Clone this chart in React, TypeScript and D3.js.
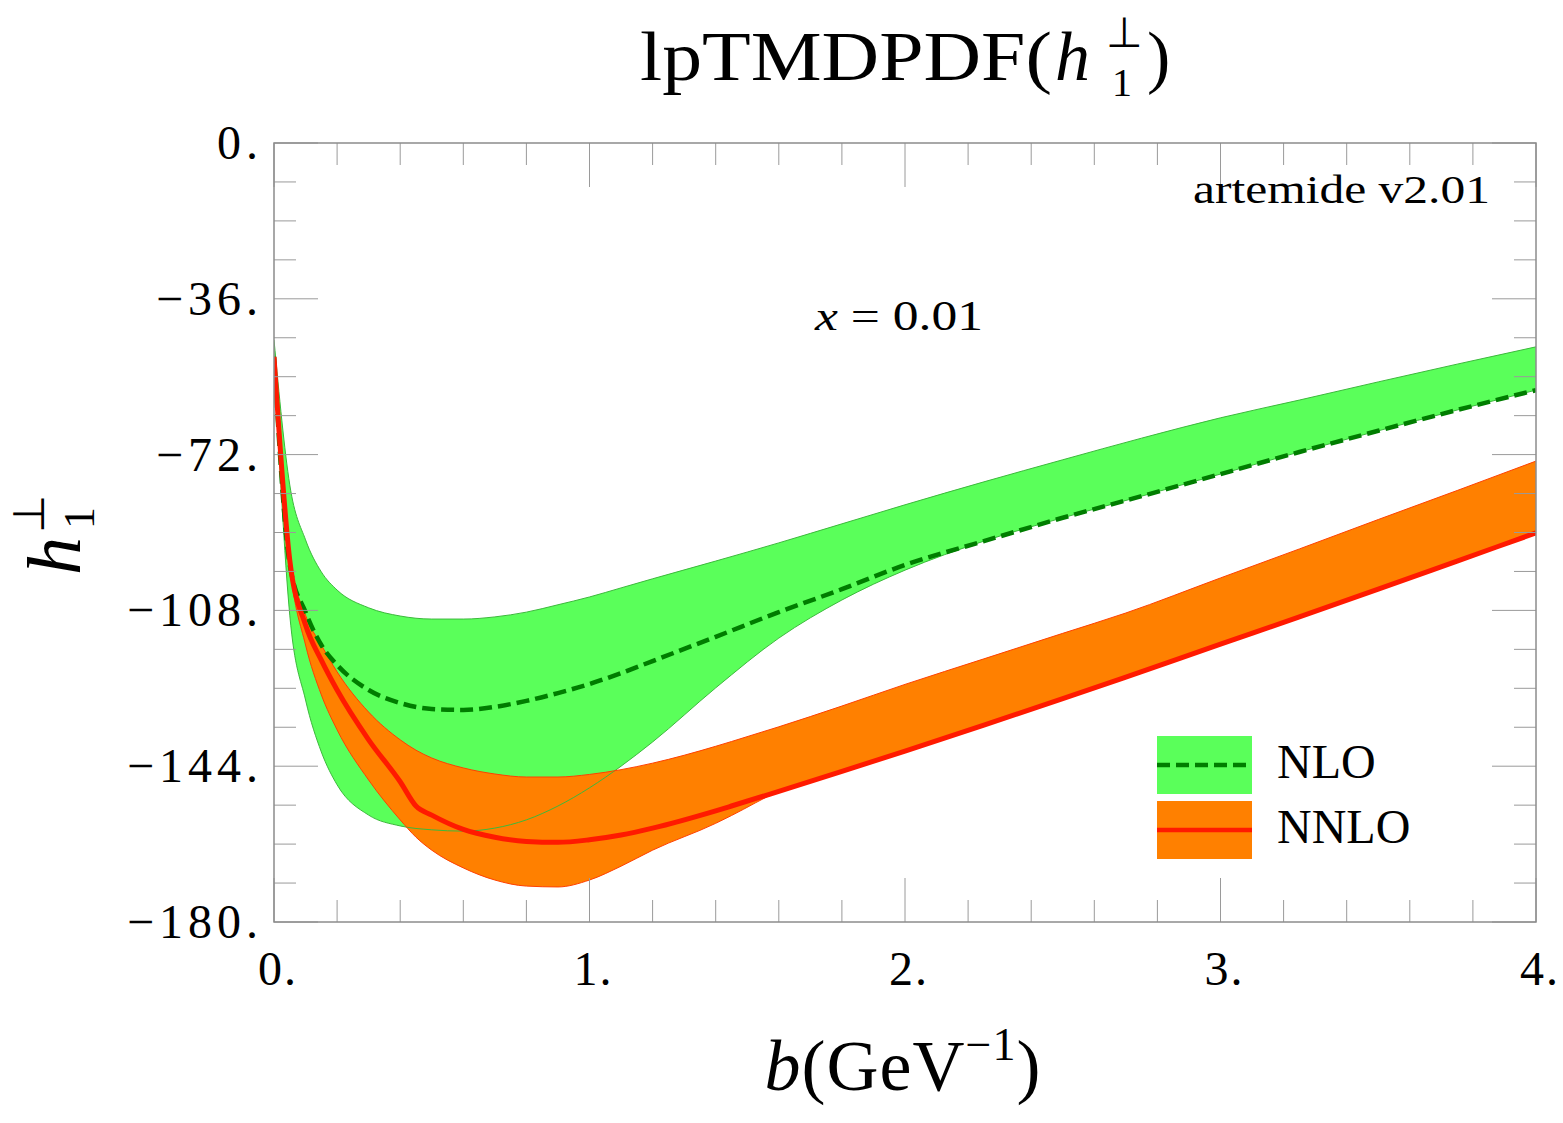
import React from 'react';
import * as d3 from 'd3';

// b values (GeV^-1) at which the curves were sampled
const bNLO = [0, 0.05, 0.1, 0.15, 0.2, 0.3, 0.4, 0.5, 0.6, 0.7, 0.8, 0.9, 1.0, 1.1, 1.2, 1.4, 1.6, 1.8, 2.0, 2.25, 2.5, 2.75, 3.0, 3.25, 3.5, 3.75, 4.0];
const nloCentral = [-49.4, -97.5, -108.4, -116.0, -120.6, -126.4, -129.4, -130.8, -131.0, -130.3, -128.9, -127.1, -125.0, -122.5, -119.7, -114.1, -108.4, -103.1, -97.5, -92.0, -86.6, -81.6, -76.5, -71.4, -66.5, -61.7, -57.1];
const nloUpper = [-45.5, -79.0, -91.7, -99.1, -103.3, -107.4, -109.3, -110.0, -110.0, -109.5, -108.4, -106.7, -104.9, -102.8, -100.7, -96.6, -92.4, -88.0, -83.6, -78.3, -73.2, -68.2, -63.5, -59.4, -55.2, -51.1, -47.1];
const nloLower = [-49.4, -109.1, -128.7, -140.7, -148.3, -155.3, -157.8, -158.7, -159.0, -158.3, -156.4, -153.2, -149.0, -144.0, -138.4, -125.9, -114.4, -105.6, -98.7, -92.0, -86.6, -81.6, -76.5, -71.4, -66.5, -61.7, -57.1];

const bNNLO = [0, 0.05, 0.1, 0.15, 0.2, 0.3, 0.4, 0.45, 0.5, 0.6, 0.7, 0.8, 0.9, 1.0, 1.1, 1.2, 1.4, 1.45, 1.6, 1.8, 2.0, 2.25, 2.5, 2.7, 3.0, 3.25, 3.5, 3.75, 4.0];
const nnloCentral = [-49.4, -96.4, -111.4, -119.5, -126.4, -137.9, -147.6, -153.2, -155.3, -158.6, -160.4, -161.4, -161.6, -161.0, -159.9, -158.3, -154.3, -153.2, -149.8, -145.2, -140.5, -134.5, -128.4, -123.4, -115.8, -109.5, -103.1, -96.6, -90.1];
const nnloUpper = [-49.4, -95.2, -109.1, -116.0, -122.2, -131.5, -137.9, -140.3, -142.1, -144.4, -145.8, -146.5, -146.5, -145.9, -144.8, -143.3, -139.4, -138.3, -134.9, -130.1, -125.1, -119.2, -113.3, -108.6, -100.5, -93.8, -87.0, -80.3, -73.5];
const nnloLower = [-49.4, -97.5, -116.0, -127.5, -135.6, -147.2, -156.4, -160.4, -163.4, -167.5, -170.3, -171.7, -171.9, -170.3, -167.1, -163.4, -157.2, -155.4, -149.8, -145.2, -140.5, -134.5, -128.4, -123.4, -115.8, -109.5, -103.1, -96.6, -90.1];

const xTickLabels = ['0.', '1.', '2.', '3.', '4.'];
const xMajor = [0, 1, 2, 3, 4];
const yMajor = [0, -36, -72, -108, -144, -180];
const yTickLabels = ['0.', '\u221236.', '\u221272.', '\u2212108.', '\u2212144.', '\u2212180.'];

const W = 1563;
const H = 1123;
const margin = { left: 274, right: 27, top: 143, bottom: 201 };
const FONT = '"Liberation Serif", "Times New Roman", serif';

const GREEN_FILL = '#5aff5a';
const GREEN_EDGE = '#3cb93c';
const GREEN_LINE = '#007d00';
const ORANGE_FILL = '#ff8000';
const ORANGE_EDGE = '#ff4000';
const RED_LINE = '#ff1a00';

export default function App() {
  const x = d3.scaleLinear().domain([0, 4]).range([margin.left, W - margin.right]);
  const y = d3.scaleLinear().domain([-180, 0]).range([H - margin.bottom, margin.top]);
  const x0 = x.range()[0], x1 = x.range()[1];
  const y0 = y.range()[0], y1 = y.range()[1];

  const curve = d3.curveMonotoneX;
  const nloArea = d3.area<number>().x((_, i) => x(bNLO[i])).y0((_, i) => y(nloLower[i])).y1((_, i) => y(nloUpper[i])).curve(curve);
  const nnloArea = d3.area<number>().x((_, i) => x(bNNLO[i])).y0((_, i) => y(nnloLower[i])).y1((_, i) => y(nnloUpper[i])).curve(curve);
  const lineOf = (bs: number[], vs: number[]) =>
    d3.line<number>().x((_, i) => x(bs[i])).y((d) => y(d)).curve(curve)(vs) || '';

  // minor ticks
  const xMinor = d3.range(0, 4.0001, 0.2).filter((v) => Math.abs(v - Math.round(v)) > 1e-6);
  const yMinor = d3.range(-180, 0.001, 9).filter((v) => Math.abs(v % 36) > 1e-6);
  const MAJ = 44;
  const MIN = 22;
  const tickColor = '#9a9a9a';

  return (
    <svg width={W} height={H} style={{ position: 'absolute', left: 0, top: 0, background: '#fff' }} fontFamily={FONT}>
      <defs>
        <clipPath id="plot-clip">
          <rect x={x0} y={y1} width={x1 - x0} height={y0 - y1} />
        </clipPath>
      </defs>

      {/* title */}
      <g>
        <text x={640} y={80} fontSize={70} textLength={412} lengthAdjust="spacingAndGlyphs">lpTMDPDF(</text>
        <text x={1055} y={80} fontSize={70} fontStyle="italic">h</text>
        <text x={1106} y={47} fontSize={42}>{'\u22a5'}</text>
        <text x={1112} y={96} fontSize={40}>1</text>
        <text x={1147} y={80} fontSize={70}>)</text>
      </g>

      {/* bands and curves */}
      <g clipPath="url(#plot-clip)">
        <path d={nloArea(nloCentral) || ''} fill={GREEN_FILL} stroke="none" />
        <path d={nnloArea(nnloCentral) || ''} fill={ORANGE_FILL} stroke="none" />
        <path d={lineOf(bNLO, nloUpper)} fill="none" stroke={GREEN_EDGE} strokeWidth={1} />
        <path d={lineOf(bNLO, nloLower)} fill="none" stroke={GREEN_EDGE} strokeWidth={1} />
        <path d={lineOf(bNNLO, nnloUpper)} fill="none" stroke={ORANGE_EDGE} strokeWidth={1} />
        <path d={lineOf(bNNLO, nnloLower)} fill="none" stroke={ORANGE_EDGE} strokeWidth={1} />
        <path d={lineOf(bNLO, nloCentral)} fill="none" stroke={GREEN_LINE} strokeWidth={4.5} strokeDasharray="13,6" />
        <path d={lineOf(bNNLO, nnloCentral)} fill="none" stroke={RED_LINE} strokeWidth={5} />
      </g>

      {/* frame ticks */}
      <g stroke={tickColor} strokeWidth={1}>
        {xMajor.map((v) => (
          <g key={'xM' + v}>
            <line x1={x(v)} x2={x(v)} y1={y0} y2={y0 - MAJ} />
            <line x1={x(v)} x2={x(v)} y1={y1} y2={y1 + MAJ} />
          </g>
        ))}
        {xMinor.map((v) => (
          <g key={'xm' + v}>
            <line x1={x(v)} x2={x(v)} y1={y0} y2={y0 - MIN} />
            <line x1={x(v)} x2={x(v)} y1={y1} y2={y1 + MIN} />
          </g>
        ))}
        {yMajor.map((v) => (
          <g key={'yM' + v}>
            <line x1={x0} x2={x0 + MAJ} y1={y(v)} y2={y(v)} />
            <line x1={x1} x2={x1 - MAJ} y1={y(v)} y2={y(v)} />
          </g>
        ))}
        {yMinor.map((v) => (
          <g key={'ym' + v}>
            <line x1={x0} x2={x0 + MIN} y1={y(v)} y2={y(v)} />
            <line x1={x1} x2={x1 - MIN} y1={y(v)} y2={y(v)} />
          </g>
        ))}
      </g>
      <rect x={x0} y={y1} width={x1 - x0} height={y0 - y1} fill="none" stroke="#8c8c8c" strokeWidth={1.5} />

      {/* tick labels */}
      {xMajor.map((v, i) => (
        <text key={'xl' + v} x={x(v) + 4} y={y0 + 63} fontSize={48} textAnchor="middle" letterSpacing={2}>{xTickLabels[i]}</text>
      ))}
      {yMajor.map((v, i) => (
        <text key={'yl' + v} x={x0 - 11} y={y(v) + 16} fontSize={48} textAnchor="end" letterSpacing={5}>{yTickLabels[i]}</text>
      ))}

      {/* axis labels */}
      <text x={903} y={1090} fontSize={72} textAnchor="middle" letterSpacing={1}>
        <tspan fontStyle="italic">b</tspan>
        <tspan>(GeV</tspan>
        <tspan fontSize={46} dy={-30}>{'\u22121'}</tspan>
        <tspan dy={30}>)</tspan>
      </text>
      <g transform="translate(80,575) rotate(-90)">
        <text x={0} y={0} fontSize={76} fontStyle="italic">h</text>
        <text x={42} y={-36} fontSize={44}>{'\u22a5'}</text>
        <text x={46} y={14} fontSize={44}>1</text>
      </g>

      {/* annotations */}
      <text x={1490} y={203} fontSize={40} textAnchor="end" textLength={297} lengthAdjust="spacingAndGlyphs">artemide v2.01</text>
      <text x={815} y={330} fontSize={42} textLength={168} lengthAdjust="spacingAndGlyphs">
        <tspan fontStyle="italic">x</tspan>
        <tspan> = 0.01</tspan>
      </text>

      {/* legend */}
      <g>
        <rect x={1157} y={736} width={95} height={58} fill={GREEN_FILL} />
        <line x1={1157} x2={1252} y1={765} y2={765} stroke={GREEN_LINE} strokeWidth={4.5} strokeDasharray="13,6" />
        <text x={1277} y={778} fontSize={48}>NLO</text>
        <rect x={1157} y={801} width={95} height={58} fill={ORANGE_FILL} />
        <line x1={1157} x2={1252} y1={830} y2={830} stroke={RED_LINE} strokeWidth={4.5} />
        <text x={1277} y={843} fontSize={48}>NNLO</text>
      </g>
    </svg>
  );
}
